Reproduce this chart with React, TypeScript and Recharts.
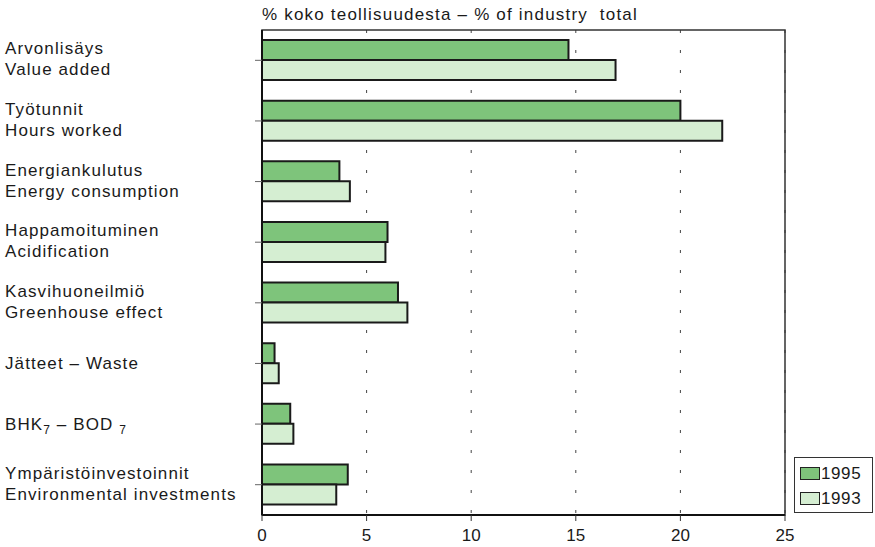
import { BarChart, Bar, XAxis, YAxis, CartesianGrid, ReferenceArea } from 'recharts'

const categories = ['Arvonlisäys', 'Työtunnit', 'Energiankulutus', 'Happamoituminen', 'Kasvihuoneilmiö', 'Jätteet', 'BHK7', 'Ympäristöinvestoinnit']
const labelLines: string[][] = [
    ['Arvonlisäys', 'Value added'],
    ['Työtunnit', 'Hours worked'],
    ['Energiankulutus', 'Energy consumption'],
    ['Happamoituminen', 'Acidification'],
    ['Kasvihuoneilmiö', 'Greenhouse effect'],
    ['Jätteet – Waste'],
    ['BHK7 – BOD7'],
    ['Ympäristöinvestoinnit', 'Environmental investments'],
]
const values1995 = [14.65, 20.0, 3.7, 6.0, 6.5, 0.6, 1.35, 4.1]
const values1993 = [16.9, 22.0, 4.2, 5.9, 6.95, 0.8, 1.5, 3.55]
const xTicks = [0, 5, 10, 15, 20, 25]
const seriesNames = ['1995', '1993']
const seriesColors = ['#7ec47b', '#d5eed2']

const chartData = categories.map((c, i) => ({ name: c, y1995: values1995[i], y1993: values1993[i] }))

const FONT = '"Liberation Sans", Arial, sans-serif'
const textStyle = { fontFamily: FONT, fontSize: 17, letterSpacing: 1.1, fill: '#1a1a1a' }

function CategoryTick(props: any) {
    const { y, payload } = props
    const idx = categories.indexOf(payload.value)
    const lines = labelLines[idx] || [payload.value]
    if (payload.value === 'BHK7') {
        return (
            <text x={5} y={y + 6} style={textStyle}>
                BHK<tspan fontSize={12} dy={4}>7</tspan>
                <tspan dy={-4}> – BOD </tspan>
                <tspan fontSize={12} dy={4}>7</tspan>
            </text>
        )
    }
    if (lines.length === 1) {
        return (
            <text x={5} y={y + 6} style={textStyle}>{lines[0]}</text>
        )
    }
    return (
        <text x={5} y={y - 6} style={textStyle}>
            <tspan x={5}>{lines[0]}</tspan>
            <tspan x={5} dy={21}>{lines[1]}</tspan>
        </text>
    )
}

function LegendBox() {
    return (
        <div style={{ position: 'absolute', left: 794, top: 457, border: '1px solid #333', width: 79, height: 56, boxSizing: 'border-box', padding: '3px 0 0 5px', fontFamily: FONT, fontSize: 17, color: '#1a1a1a' }}>
            {seriesNames.map((s, i) => (
                <div key={s} style={{ display: 'flex', alignItems: 'center', height: 25 }}>
                    <span style={{ display: 'inline-block', width: 18, height: 11, background: seriesColors[i], border: '1px solid #222', marginRight: 1 }} />
                    <span style={{ letterSpacing: 0.6 }}>{s}</span>
                </div>
            ))}
        </div>
    )
}

export default function App() {
    return (
        <div style={{ position: 'absolute', left: 0, top: 0, width: 875, height: 547, background: '#fff' }}>
            <div style={{ position: 'absolute', left: 262, top: 5, fontFamily: FONT, fontSize: 17, letterSpacing: 1.2, color: '#1a1a1a', whiteSpace: 'pre' }}>
                {'% koko teollisuudesta – % of industry  total'}
            </div>
            <BarChart
                width={875}
                height={547}
                data={chartData}
                layout="vertical"
                margin={{ top: 30, right: 90, left: 7, bottom: 0 }}
                barSize={20}
                barGap={0}
            >
                <CartesianGrid horizontal={false} stroke="#444" strokeDasharray="3 17" />
                <ReferenceArea x1={0} x2={25} fill="none" stroke="#333" strokeWidth={1.5} />
                <XAxis
                    type="number"
                    domain={[0, 25]}
                    ticks={xTicks}
                    height={32}
                    axisLine={{ stroke: '#111', strokeWidth: 2 }}
                    tickLine={{ stroke: '#333' }}
                    tickSize={6}
                    tick={{ fill: '#1a1a1a', fontSize: 17, fontFamily: FONT }}
                    dy={6}
                />
                <YAxis
                    type="category"
                    dataKey="name"
                    width={255}
                    axisLine={{ stroke: '#111', strokeWidth: 2 }}
                    tickLine={{ stroke: '#666' }}
                    tickSize={7}
                    tick={<CategoryTick />}
                    interval={0}
                />
                <Bar dataKey="y1995" name={seriesNames[0]} fill={seriesColors[0]} stroke="#1a1a1a" strokeWidth={2} isAnimationActive={false} />
                <Bar dataKey="y1993" name={seriesNames[1]} fill={seriesColors[1]} stroke="#1a1a1a" strokeWidth={2} isAnimationActive={false} />
            </BarChart>
            <LegendBox />
        </div>
    )
}
